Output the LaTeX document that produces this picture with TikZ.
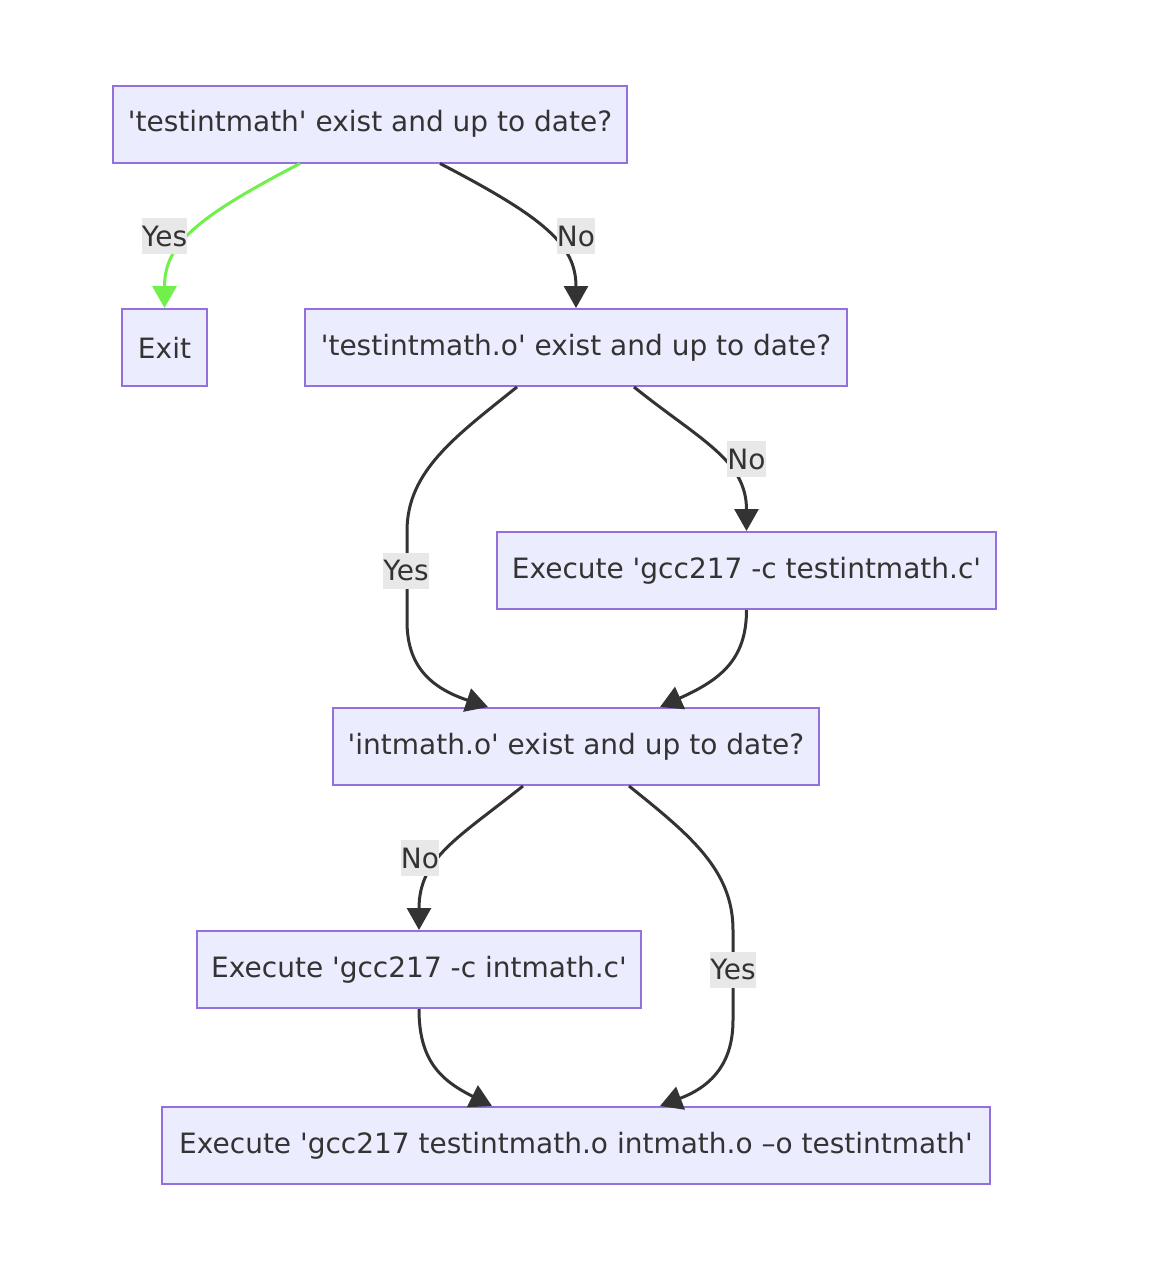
\documentclass[tikz,border=0pt]{standalone}
\usepackage{fontspec}
\setmainfont{DejaVu Sans}[Ligatures=TeXOff]
\usetikzlibrary{arrows.meta}

\definecolor{boxfill}{HTML}{ECECFF}
\definecolor{boxline}{HTML}{9370DB}
\definecolor{ink}{HTML}{333333}
\definecolor{lblfill}{HTML}{E8E8E8}
\definecolor{yesgreen}{HTML}{6FF04A}

\tikzset{
  stepbox/.style={draw=boxline, fill=boxfill, line width=2pt, minimum height=77pt,
    inner sep=0pt, text=ink, font=\fontsize{28}{32}\selectfont},
  lbl/.style={fill=lblfill, text=ink, inner xsep=0pt, inner ysep=0pt, minimum height=36pt,
    font=\fontsize{28}{32}\selectfont},
  flow/.style={ink, line width=3pt, -{Triangle[width=24pt,length=22pt]}},
}

\begin{document}
\begin{tikzpicture}[x=1pt,y=-1pt]
	\useasboundingbox[fill=white] (0,0) rectangle (1158,1280);

	% the checks and the commands
	\node[stepbox, minimum width=514pt] (exe) at (370,124) {'testintmath' exist and up to date?};
	\node[stepbox, minimum width=85pt] (exit) at (164.5,347.5) {Exit};
	\node[stepbox, minimum width=542pt] (tobj) at (576,347.5) {'testintmath.o' exist and up to date?};
	\node[stepbox, minimum width=499pt] (tcc) at (746.5,570.5) {Execute 'gcc217 -c testintmath.c'};
	\node[stepbox, minimum width=486pt] (iobj) at (576,746.5) {'intmath.o' exist and up to date?};
	\node[stepbox, minimum width=444pt] (icc) at (419,969.5) {Execute 'gcc217 -c intmath.c'};
	\node[stepbox, minimum width=828pt] (link) at (576,1145.5) {Execute 'gcc217 testintmath.o intmath.o –o testintmath'};

	% connectors
	\draw[flow, yesgreen] ([xshift=-70pt]exe.south) .. controls (195,218) and (164.5,245) .. (exit.north);
	\draw[flow] ([xshift=70pt]exe.south) .. controls (545,218) and (576,245) .. (tobj.north);
	\draw[flow] ([xshift=-59pt]tobj.south) .. controls (456,436) and (407,471) .. (407,531)
		-- (407,621) .. controls (407,661) and (425,686) .. ([xshift=-88pt]iobj.north);
	\draw[flow] ([xshift=58pt]tobj.south) .. controls (700,440) and (746.5,460) .. (tcc.north);
	\draw[flow] (tcc.south) .. controls (746.5,660) and (720,680) .. ([xshift=84pt]iobj.north);
	\draw[flow] ([xshift=-53pt]iobj.south) .. controls (458,838) and (419,858) .. (icc.north);
	\draw[flow] ([xshift=53pt]iobj.south) .. controls (690,835) and (733,870) .. (733,930)
		-- (733,1020) .. controls (733,1060) and (715,1085) .. ([xshift=84pt]link.north);
	\draw[flow] (icc.south) .. controls (419,1060) and (440,1080) .. ([xshift=-84pt]link.north);

	% edge labels
	\node[lbl] (yes1) at (164.5,236) {Yes};
	\node[lbl] (no1) at (576,236) {No};
	\node[lbl] (yes2) at (406,570.5) {Yes};
	\node[lbl] (no2) at (746.5,459) {No};
	\node[lbl] (no3) at (420,858) {No};
	\node[lbl] (yes3) at (733,969.5) {Yes};

\end{tikzpicture}
\end{document}
